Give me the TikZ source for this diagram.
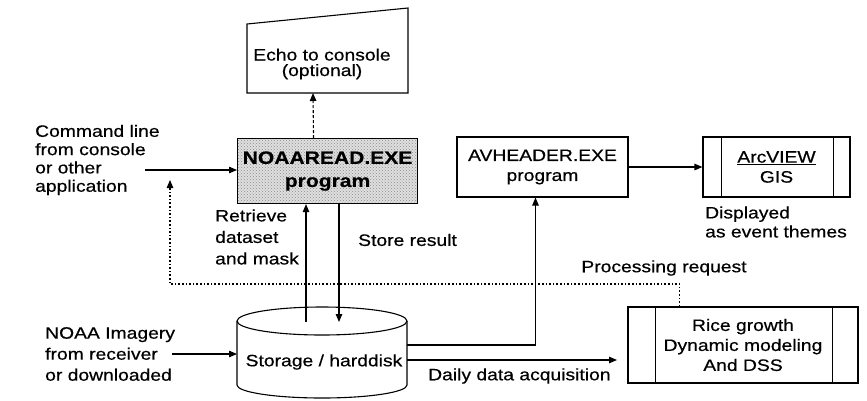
\documentclass[tikz,border=0pt]{standalone}
\usepackage{fontspec}
\setmainfont{Liberation Sans}[FakeStretch=1.17, FakeBold=0.5]
\usetikzlibrary{arrows.meta,patterns}
\tikzset{
  txt/.style={font=\fontsize{16.5}{19}\selectfont, inner sep=0pt, align=left},
  boxed/.style={draw, line width=1.1pt, inner sep=0pt, font=\fontsize{16.5}{20}\selectfont, align=center},
  arr/.style={-{Triangle[length=8pt,width=6.5pt]}, line width=1.1pt},
  dasharr/.style={arr, dash pattern=on 3pt off 2pt},
  dotarr/.style={arr, dash pattern=on 1.6pt off 2pt},
  edge/.style={line width=1.1pt}
}
\begin{document}
\begin{tikzpicture}[x=1pt,y=-1pt]
\useasboundingbox (0,0) rectangle (867,400);

% Echo to console (manual input shape)
\node[txt, align=center, font=\fontsize{16.5}{15.5}\selectfont] (echo) at (322,64) {Echo to console\\(optional)};
\draw[edge] (247,93) -- (247,24) -- (408,8) -- (408,93) -- cycle;
\coordinate (echoB) at (313,93);

% NOAAREAD program
\node[boxed, minimum width=180pt, minimum height=65pt, anchor=north west,
      preaction={fill=gray!25}, pattern=crosshatch dots, pattern color=gray!90,
      font=\fontsize{18}{23}\selectfont\bfseries] (noaa) at (237,138) {NOAAREAD.EXE\\program};
\draw[dasharr] ([xshift=-14pt]noaa.north) -- (echoB);

% Command line
\node[txt, anchor=west, font=\fontsize{16.5}{18.3}\selectfont] (cmd) at (35,160) {Command line\\from console\\or other\\application};
\coordinate (cmdA) at (145,170);
\draw[arr] (cmdA) -- (noaa.west |- cmdA);

% Storage cylinder
\node[txt] (disk) at (324,362) {Storage / harddisk};
\draw[edge] (322,321) ellipse [x radius=85pt, y radius=14pt];
\draw[edge] (237,321) -- (237,385) arc[start angle=180, end angle=360, x radius=85pt, y radius=13pt] -- (407,321);
\coordinate (ret) at (306,322);
\coordinate (sto) at (339,322);
\draw[arr] (ret) -- (ret |- noaa.south);
\draw[arr] (sto |- noaa.south) -- (sto);
\node[txt, anchor=west, font=\fontsize{16.5}{21.5}\selectfont] (retl) at (215,237) {Retrieve\\dataset\\and mask};
\node[txt, anchor=west] (stol) at (358,240) {Store result};

% NOAA imagery input
\node[txt, anchor=west, font=\fontsize{16.5}{21}\selectfont] (img) at (45,354) {NOAA Imagery\\from receiver\\or downloaded};
\coordinate (imgA) at (172,354);
\draw[arr] (imgA) -- (237,354);

% AVHEADER
\node[boxed, minimum width=171pt, minimum height=60pt] (avh) at (542.5,167) {AVHEADER.EXE\\program};
\coordinate (diskR1) at (407,345);
\draw[arr] (diskR1) -| ([xshift=-7pt]avh.south);

% ArcVIEW
\node[boxed, minimum width=147pt, minimum height=60pt] (arc) at (776.5,167) {\underline{ArcVIEW}\\GIS};
\draw[edge] ([xshift=19pt]arc.north west) -- ([xshift=19pt]arc.south west);
\draw[edge] ([xshift=-17pt]arc.north east) -- ([xshift=-17pt]arc.south east);
\draw[arr] (avh.east) -- (arc.west);
\node[txt, anchor=west] (disp) at (705,222) {Displayed\\as event themes};

% Rice growth
\node[boxed, minimum width=230pt, minimum height=76pt] (rice) at (743,345) {Rice growth\\Dynamic modeling\\And DSS};
\draw[edge] ([xshift=28pt]rice.north west) -- ([xshift=28pt]rice.south west);
\draw[edge] ([xshift=-26pt]rice.north east) -- ([xshift=-26pt]rice.south east);

% Daily data acquisition
\coordinate (diskR2) at (407,360);
\coordinate (dailyE) at (617,360);
\draw[arr] (diskR2) -- (dailyE);
\node[txt, anchor=west] (daily) at (428,376) {Daily data acquisition};

% Processing request (dotted feedback)
\draw[dotarr] ([xshift=52pt]rice.north west) |- (170,284) -- (170,180);
\node[txt] (proc) at (664,268) {Processing request};
\end{tikzpicture}
\end{document}
